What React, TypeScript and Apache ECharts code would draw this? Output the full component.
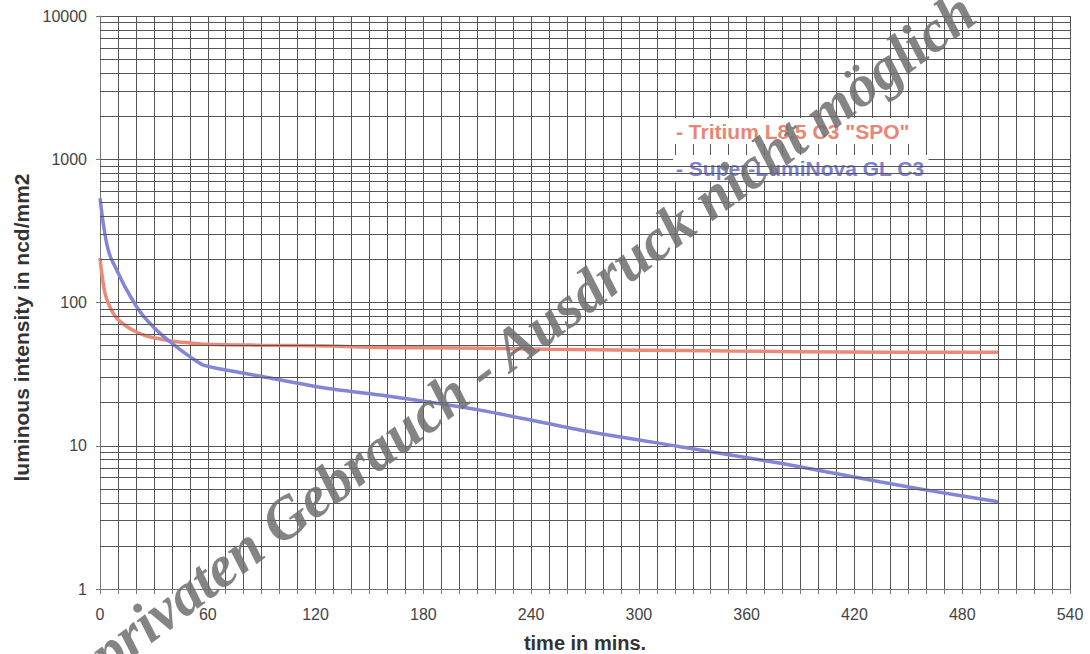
import React, { useEffect, useRef } from "react";
import * as echarts from "echarts";

// time in minutes and luminous intensity in ncd/mm2
const tritiumTimes = [0, 1, 2.8, 5, 7.4, 10, 14.9, 20, 26, 33, 39, 50, 59, 90, 128, 155, 200, 250, 300, 350, 388, 440, 500];
const tritiumValues = [205, 160, 116, 96, 84, 76, 68, 62.5, 58.4, 55.8, 53.9, 52.2, 51.1, 50.3, 49.7, 48.6, 48.1, 47.2, 46.5, 45.8, 45.4, 45.0, 44.9];

const luminovaTimes = [0, 1.5, 3.7, 6, 9.3, 14, 20.4, 25, 29.6, 35, 39, 45, 50, 57.5, 72.4, 91, 126, 156, 211, 267, 323, 379, 434, 462, 500];
const luminovaValues = [534, 380, 259, 205, 169, 128, 93.5, 78, 67.8, 58.5, 53.3, 46.5, 41.9, 36.6, 33.4, 30.3, 25.2, 22.6, 17.8, 12.9, 9.85, 7.54, 5.61, 4.86, 4.07];

const seriesNames = ["Tritium L8.5 C3 \"SPO\"", "Super-LumiNova GL C3"];
const seriesColors = ["#ea8674", "#7e81d3"];
const lineColors = ["#eb8a78", "#8286d6"];

const xTicks = [0, 60, 120, 180, 240, 300, 360, 420, 480, 540];
const yDecades = [1, 10, 100, 1000];
const yMinorMultipliers = [2, 3, 4, 5, 6, 7, 8, 9];

const xTitle = "time in mins.";
const yTitle = "luminous intensity in ncd/mm2";
const watermark = "privaten Gebrauch - Ausdruck nicht möglich";

const GRID = "#555";
const FONT = "'Liberation Sans', Arial, sans-serif";

export default function App() {
  const ref = useRef<HTMLDivElement>(null);

  useEffect(() => {
    if (!ref.current) return;
    const chart = echarts.init(ref.current, undefined, { renderer: "svg" });

    const minorY: any[] = [];
    yDecades.forEach((d) => yMinorMultipliers.forEach((m) => minorY.push({ yAxis: d * m })));

    const tritium = tritiumTimes.map((t, i) => [t, tritiumValues[i]]);
    const luminova = luminovaTimes.map((t, i) => [t, luminovaValues[i]]);

    chart.setOption({
      animation: false,
      backgroundColor: "#fff",
      textStyle: { fontFamily: FONT },
      grid: { left: 100, right: 20, top: 16, bottom: 65, containLabel: false, outerBoundsMode: "none" },
      xAxis: {
        type: "value",
        min: xTicks[0],
        max: xTicks[xTicks.length - 1],
        interval: 60,
        name: xTitle,
        nameLocation: "middle",
        nameGap: 44,
        nameTextStyle: { fontFamily: FONT, fontSize: 20, fontWeight: "bold", color: "#333" },
        axisLine: { show: true, lineStyle: { color: "#777", width: 1 } },
        axisTick: { show: true, length: 5, lineStyle: { color: "#777" } },
        minorTick: { show: true, splitNumber: 6, length: 5, lineStyle: { color: "#777" } },
        axisLabel: { fontFamily: FONT, fontSize: 16, color: "#444", margin: 17 },
        splitLine: { show: true, lineStyle: { color: GRID, width: 1 } },
        minorSplitLine: { show: true, lineStyle: { color: GRID, width: 1 } },
      },
      yAxis: {
        type: "log",
        logBase: 10,
        min: 1,
        max: 10000,
        name: yTitle,
        nameLocation: "middle",
        nameGap: 68,
        nameTextStyle: { fontFamily: FONT, fontSize: 21, fontWeight: "bold", color: "#333", padding: [0, 50, 0, 0] },
        axisLine: { show: true, lineStyle: { color: "#777", width: 1 } },
        axisTick: { show: true, length: 4, lineStyle: { color: "#777" } },
        axisLabel: {
          fontFamily: FONT,
          fontSize: 16,
          color: "#444",
          margin: 13,
          formatter: (v: number) => String(Math.round(v)),
        },
        splitLine: { show: true, lineStyle: { color: GRID, width: 1 } },
      },
      legend: {
        orient: "vertical",
        left: 668,
        top: 118,
        padding: 0,
        itemGap: 11,
        itemWidth: 0,
        itemHeight: 14,
        icon: "none",
        selectedMode: false,
        formatter: "- {name}",
        textStyle: {
          fontFamily: FONT,
          fontSize: 21,
          lineHeight: 22,
          fontWeight: "bold",
          backgroundColor: "#fff",
          padding: [2, 4, 2, 3],
        },
        data: seriesNames.map((n, i) => ({ name: n, textStyle: { color: seriesColors[i] } })),
      },
      series: [
        {
          name: "grid-minor",
          type: "line",
          data: [],
          silent: true,
          z: 1,
          markLine: {
            silent: true,
            symbol: "none",
            label: { show: false },
            lineStyle: { color: GRID, width: 1, type: "solid" },
            data: minorY,
          },
        },
        {
          name: seriesNames[0],
          type: "line",
          data: tritium,
          showSymbol: false,
          smooth: 0.3,
          z: 3,
          lineStyle: { color: lineColors[0], width: 3.5 },
          itemStyle: { color: lineColors[0] },
        },
        {
          name: seriesNames[1],
          type: "line",
          data: luminova,
          showSymbol: false,
          smooth: 0.2,
          z: 4,
          lineStyle: { color: lineColors[1], width: 3.5 },
          itemStyle: { color: lineColors[1] },
        },
      ],
      graphic: [
        {
          type: "text",
          x: 532,
          y: 332,
          rotation: 0.645,
          z: 100,
          silent: true,
          style: {
            text: watermark,
            font: "italic bold 59px 'Liberation Serif', 'DejaVu Serif', serif",
            fill: "rgba(110,110,110,0.85)",
            textAlign: "center",
            textVerticalAlign: "middle",
            align: "center",
            verticalAlign: "middle",
          },
        },
      ],
    });

    return () => chart.dispose();
  }, []);

  return (
    <div
      ref={ref}
      style={{ position: "fixed", left: 0, top: 0, width: 1090, height: 654 }}
    />
  );
}
